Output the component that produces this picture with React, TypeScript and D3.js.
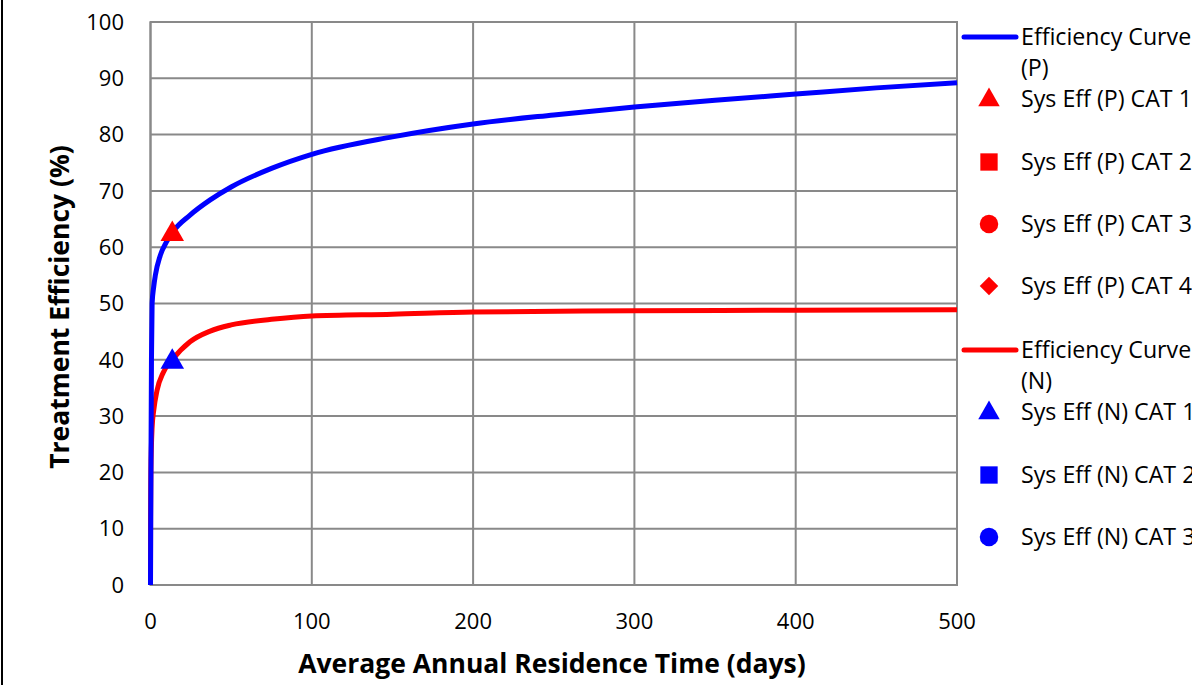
import React from "react";
import * as d3 from "d3";

const xTicks = [0, 100, 200, 300, 400, 500];
const yTicks = [0, 10, 20, 30, 40, 50, 60, 70, 80, 90, 100];

const curvePDays = [0, 0.3, 0.6, 1, 2, 3, 6, 10, 14, 24.5, 37, 50, 75, 100, 150, 200, 250, 300, 350, 400, 450, 500];
const curvePEff = [0, 22, 40, 50, 53, 55, 58.5, 61, 62.8, 65.7, 68.4, 70.7, 74, 76.5, 79.6, 81.9, 83.5, 84.9, 86.1, 87.2, 88.3, 89.2];

const curveNDays = [0, 0.05, 0.2, 0.5, 1, 2, 4, 8, 13.5, 24.5, 37, 50, 75, 100, 150, 200, 300, 400, 500];
const curveNEff = [0, 12, 19, 24, 28, 31, 34.5, 37.8, 40, 43.2, 45.1, 46.2, 47.2, 47.8, 48.1, 48.5, 48.7, 48.8, 48.9];

const pointsPDays = [13.5];
const pointsPEff = [62.5];
const pointsNDays = [13.5];
const pointsNEff = [39.8];

const legendLabels = [
  "Efficiency Curve|(P)",
  "Sys Eff (P) CAT 1",
  "Sys Eff (P) CAT 2",
  "Sys Eff (P) CAT 3",
  "Sys Eff (P) CAT 4",
  "Efficiency Curve|(N)",
  "Sys Eff (N) CAT 1",
  "Sys Eff (N) CAT 2",
  "Sys Eff (N) CAT 3",
];
const legendKinds = ["line", "triangle", "square", "circle", "diamond", "line", "triangle", "square", "circle"];
const legendColors = ["#0000FF", "#FF0000", "#FF0000", "#FF0000", "#FF0000", "#FF0000", "#0000FF", "#0000FF", "#0000FF"];

const W = 1192;
const H = 685;
const FONT = "'Open Sans', 'Noto Sans', sans-serif";

export default function App() {
  const x = d3.scaleLinear().domain([0, 500]).range([150.5, 957]);
  const y = d3.scaleLinear().domain([0, 100]).range([585, 22]);

  const line = d3
    .line<[number, number]>()
    .x((d) => x(d[0]))
    .y((d) => y(d[1]))
    .curve(d3.curveMonotoneX);

  const pData = curvePDays.map((d, i) => [d, curvePEff[i]] as [number, number]);
  const nData = curveNDays.map((d, i) => [d, curveNEff[i]] as [number, number]);

  const triangle = d3.symbol().type(d3.symbolTriangle).size(240)();
  const legTriangle = d3.symbol().type(d3.symbolTriangle).size(200)();
  const square = d3.symbol().type(d3.symbolSquare).size(300)();
  const circle = d3.symbol().type(d3.symbolCircle).size(270)();
  const diamond = d3.symbol().type(d3.symbolSquare).size(170)();
  const symFor: Record<string, string | null> = { triangle: legTriangle, square, circle, diamond };

  const legendY = [37, 99, 162, 224, 286, 350, 412, 475, 537];

  return (
    <svg width={W} height={H} style={{ position: "absolute", left: 0, top: 0, background: "#fff" }}>
      <rect x={0} y={0} width={W} height={H} fill="#fff" />
      <line x1={2} y1={0} x2={2} y2={H} stroke="#000" strokeWidth={2} />
      {/* grid */}
      {yTicks.map((t) => (
        <line key={"gy" + t} x1={x(0)} x2={x(500)} y1={y(t)} y2={y(t)} stroke="#898989" strokeWidth={2} />
      ))}
      {xTicks.map((t) => (
        <line key={"gx" + t} x1={x(t)} x2={x(t)} y1={y(0)} y2={y(100)} stroke="#898989" strokeWidth={2} />
      ))}
      <rect x={x(0)} y={y(100)} width={x(500) - x(0)} height={y(0) - y(100)} fill="none" stroke="#898989" strokeWidth={2} />
      {/* tick labels */}
      {yTicks.map((t) => (
        <text key={"ly" + t} x={124} y={y(t)} dy="0.35em" textAnchor="end" fontFamily={FONT} fontSize={22} fill="#000">
          {t}
        </text>
      ))}
      {xTicks.map((t) => (
        <text key={"lx" + t} x={x(t)} y={621} dy="0.35em" textAnchor="middle" fontFamily={FONT} fontSize={22} fill="#000">
          {t}
        </text>
      ))}
      {/* curves */}
      <path d={line(nData) || ""} fill="none" stroke="#FF0000" strokeWidth={5} />
      <path d={line(pData) || ""} fill="none" stroke="#0000FF" strokeWidth={5} />
      {pointsPDays.map((d, i) => (
        <path key={"pp" + i} d={triangle || ""} transform={`translate(${x(d)},${y(pointsPEff[i]) + 1})`} fill="#FF0000" />
      ))}
      {pointsNDays.map((d, i) => (
        <path key={"pn" + i} d={triangle || ""} transform={`translate(${x(d)},${y(pointsNEff[i]) + 1})`} fill="#0000FF" />
      ))}
      {/* axis titles */}
      <text x={552} y={664} dy="0.35em" textAnchor="middle" fontFamily={FONT} fontWeight="bold" fontSize={26.5} fill="#000">
        Average Annual Residence Time (days)
      </text>
      <text
        transform={`translate(60,${307}) rotate(-90)`}
        dy="0.35em"
        textAnchor="middle"
        fontFamily={FONT}
        fontWeight="bold"
        fontSize={26.5}
        fill="#000"
      >
        Treatment Efficiency (%)
      </text>
      {/* legend */}
      {legendLabels.map((lab, i) => {
        const ly = legendY[i];
        const kind = legendKinds[i];
        const col = legendColors[i];
        const parts = lab.split("|");
        return (
          <g key={"lg" + i}>
            {kind === "line" ? (
              <line x1={964} x2={1016} y1={ly} y2={ly} stroke={col} strokeWidth={5} strokeLinecap="round" />
            ) : (
              <path
                d={symFor[kind] || ""}
                transform={`translate(989,${ly + (kind === "triangle" ? 1 : 0)})${kind === "diamond" ? " rotate(45)" : ""}`}
                fill={col}
              />
            )}
            {parts.map((p, j) => (
              <text key={j} x={1021} y={ly + j * 31} dy="0.35em" fontFamily={FONT} fontSize={23.2} fill="#000">
                {p}
              </text>
            ))}
          </g>
        );
      })}
    </svg>
  );
}
